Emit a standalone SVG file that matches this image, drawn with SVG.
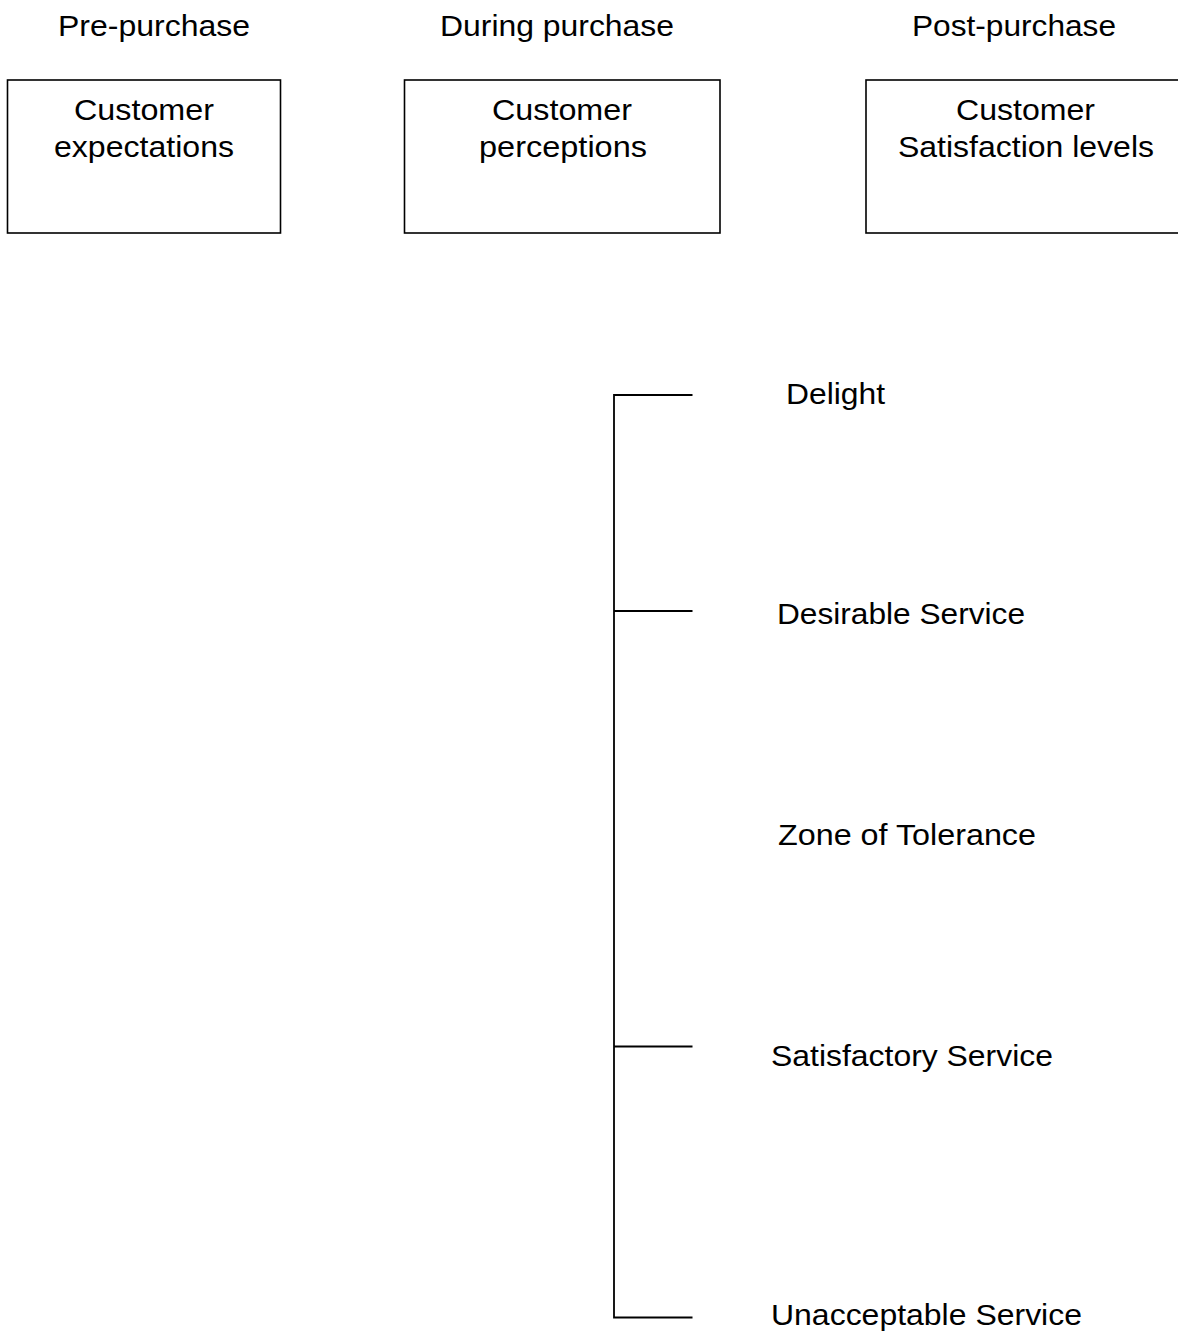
<svg xmlns="http://www.w3.org/2000/svg" width="1178" height="1335" viewBox="0 0 1178 1335">
  <style>
    text { font-family: "Liberation Sans", Arial, sans-serif; font-size: 29.3px; fill: #000; }
    .box { fill: #fff; stroke: #000; stroke-width: 1.6; }
    .line { stroke: #000; stroke-width: 1.8; fill: none; }
  </style>
  <rect width="1178" height="1335" fill="#fff"/>

  <!-- stage headings -->
  <g id="headings">
    <text x="58" y="36" textLength="192" lengthAdjust="spacingAndGlyphs">Pre-purchase</text>
    <text x="440" y="36" textLength="234" lengthAdjust="spacingAndGlyphs">During purchase</text>
    <text x="912" y="36" textLength="204" lengthAdjust="spacingAndGlyphs">Post-purchase</text>
  </g>

  <!-- stage boxes -->
  <g id="expectations">
    <rect class="box" x="7.5" y="80" width="273" height="153"/>
    <text x="74" y="120" textLength="140" lengthAdjust="spacingAndGlyphs">Customer</text>
    <text x="54" y="157" textLength="180" lengthAdjust="spacingAndGlyphs">expectations</text>
  </g>
  <g id="perceptions">
    <rect class="box" x="404.5" y="80" width="315.5" height="153"/>
    <text x="492" y="120" textLength="140" lengthAdjust="spacingAndGlyphs">Customer</text>
    <text x="479" y="157" textLength="168" lengthAdjust="spacingAndGlyphs">perceptions</text>
  </g>
  <g id="satisfaction">
    <rect class="box" x="866" y="80" width="320" height="153"/>
    <text x="956" y="120" textLength="139" lengthAdjust="spacingAndGlyphs">Customer</text>
    <text x="898" y="157" textLength="256" lengthAdjust="spacingAndGlyphs">Satisfaction levels</text>
  </g>

  <!-- satisfaction scale bracket -->
  <g id="connectors">
    <path class="line" d="M692.5 395 H614 V1317.5 H692.5"/>
    <path class="line" d="M614 611 H692.5"/>
    <path class="line" d="M614 1046.5 H692.5"/>
  </g>

  <!-- scale levels -->
  <g id="delight"><text x="786" y="404" textLength="99" lengthAdjust="spacingAndGlyphs">Delight</text></g>
  <g id="desirable"><text x="777" y="624" textLength="248" lengthAdjust="spacingAndGlyphs">Desirable Service</text></g>
  <g id="tolerance"><text x="778" y="845" textLength="258" lengthAdjust="spacingAndGlyphs">Zone of Tolerance</text></g>
  <g id="satisfactory"><text x="771" y="1066" textLength="282" lengthAdjust="spacingAndGlyphs">Satisfactory Service</text></g>
  <g id="unacceptable"><text x="771" y="1325" textLength="311" lengthAdjust="spacingAndGlyphs">Unacceptable Service</text></g>
</svg>
